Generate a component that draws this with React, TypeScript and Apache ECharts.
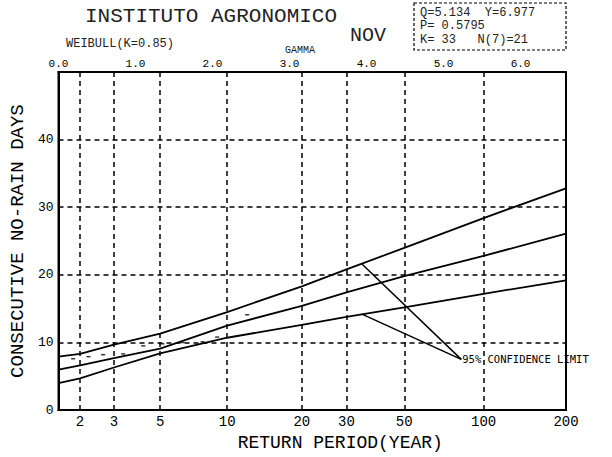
import { useEffect, useRef } from "react";
import * as echarts from "echarts";

// Return periods (years) shown on the bottom axis and their Weibull reduced-variate positions (top axis)
const returnPeriods = [2, 3, 5, 10, 20, 30, 50, 100, 200];
const reducedVariate = [0.28, 0.72, 1.32, 2.19, 3.16, 3.74, 4.49, 5.52, 6.59];
const gridPeriods = [2, 3, 5, 10, 20, 30, 50, 100];
const topTicks = [0, 1, 2, 3, 4, 5, 6];
const gridDays = [10, 20, 30, 40];

// Curves sampled at reduced variate 0 and at each return period
const curveW = [0, 0.28, 0.72, 1.32, 2.19, 3.16, 3.74, 4.49, 5.52, 6.59];
const upperLimit = [7.9, 8.3, 9.7, 11.3, 14.5, 18.3, 20.8, 24.0, 28.4, 32.8];
const estimate = [6.0, 6.6, 7.7, 9.1, 12.5, 15.4, 17.4, 19.8, 22.8, 26.1];
const lowerLimit = [4.0, 4.7, 6.3, 8.4, 10.7, 12.6, 13.8, 15.2, 17.2, 19.2];

// Observed points (plotting positions)
const obsW = [0.19, 0.39, 0.58, 0.84, 1.1, 1.35, 1.61, 1.87, 2.06, 2.45];
const obsDays = [7.6, 7.9, 8.2, 8.3, 9.5, 9.8, 10.0, 10.1, 10.8, 14.1];

// Confidence-limit pointer
const pointerUpperStart = [3.94, 21.6];
const pointerLowerStart = [3.94, 14.2];
const pointerEnd = [5.23, 7.5];

const MONO = "'Liberation Mono', 'DejaVu Sans Mono', monospace";

function periodFor(w: number): string {
  for (let i = 0; i < reducedVariate.length; i++) {
    if (Math.abs(reducedVariate[i] - w) < 1e-6) return String(returnPeriods[i]);
  }
  return "";
}
function wFor(T: number): number {
  return reducedVariate[returnPeriods.indexOf(T)];
}

export default function App() {
  const ref = useRef<HTMLDivElement>(null);
  useEffect(() => {
    if (!ref.current) return;
    const chart = echarts.init(ref.current, undefined, { renderer: "svg" });
    const dashed = { color: "#000", width: 1.5, type: [5, 4] as number[] };
    const curveStyle = { color: "#000", width: 1.8 };
    chart.setOption({
      animation: false,
      backgroundColor: "#fff",
      grid: {
        left: 55,
        right: 46,
        top: 72,
        bottom: 43,
        show: true,
        borderColor: "#000",
        borderWidth: 2,
        backgroundColor: "transparent",
      },
      xAxis: [
        {
          type: "value",
          position: "bottom",
          min: 0,
          max: 6.59,
          axisLine: { show: true, lineStyle: { color: "#000", width: 2 } },
          axisTick: { show: false },
          splitLine: { show: false },
          axisLabel: {
            customValues: reducedVariate,
            formatter: (v: number) => periodFor(v),
            color: "#000",
            fontFamily: MONO,
            fontSize: 14,
            margin: 5,
          },
          name: "RETURN PERIOD(YEAR)",
          nameLocation: "middle",
          nameGap: 17,
          nameTextStyle: {
            color: "#000",
            fontFamily: MONO,
            fontSize: 18,
            padding: [0, 0, 0, 56],
          },
        },
        {
          type: "value",
          position: "top",
          min: 0,
          max: 6.59,
          interval: 1,
          axisLine: { show: true, lineStyle: { color: "#000", width: 2 } },
          axisTick: { show: false },
          splitLine: { show: false },
          axisLabel: {
            formatter: (v: number) => (topTicks.indexOf(v) >= 0 ? v.toFixed(1) : ""),
            color: "#000",
            fontFamily: MONO,
            fontSize: 11,
            margin: 3,
          },
        },
      ],
      yAxis: {
        type: "value",
        min: 0,
        max: 50,
        interval: 10,
        axisLine: { show: true, lineStyle: { color: "#000", width: 2 } },
        axisTick: { show: false },
        splitLine: { show: false },
        axisLabel: {
          formatter: (v: number) => (v <= 40 ? String(v) : ""),
          color: "#000",
          fontFamily: MONO,
          fontSize: 13,
          margin: 5,
        },
        name: "CONSECUTIVE NO-RAIN DAYS",
        nameLocation: "middle",
        nameRotate: 90,
        nameGap: 22,
        nameTextStyle: { color: "#000", fontFamily: MONO, fontSize: 19 },
      },
      graphic: [
        {
          type: "text",
          left: 85,
          top: 6,
          style: { text: "INSTITUTO AGRONOMICO", font: `21px ${MONO}`, fill: "#222" },
        },
        {
          type: "text",
          left: 350,
          top: 25,
          style: { text: "NOV", font: `20px ${MONO}`, fill: "#222" },
        },
        {
          type: "text",
          left: 66,
          top: 38,
          style: { text: "WEIBULL(K=0.85)", font: `12px ${MONO}`, fill: "#222" },
        },
        {
          type: "text",
          left: 285,
          top: 45,
          style: { text: "GAMMA", font: `10px ${MONO}`, fill: "#222" },
        },
        {
          type: "rect",
          shape: { x: 414, y: 3, width: 152, height: 47 },
          style: { fill: "none", stroke: "#000", lineWidth: 1.2, lineDash: [3, 2] },
        },
        {
          type: "text",
          left: 420,
          top: 7,
          style: { text: "Q=5.134  Y=6.977", font: `12px ${MONO}`, fill: "#222" },
        },
        {
          type: "text",
          left: 420,
          top: 20,
          style: { text: "P= 0.5795", font: `12px ${MONO}`, fill: "#222" },
        },
        {
          type: "text",
          left: 420,
          top: 34,
          style: { text: "K= 33   N(7)=21", font: `12px ${MONO}`, fill: "#222" },
        },
      ],
      series: [
        {
          type: "line",
          name: "grid",
          data: [],
          xAxisIndex: 0,
          markLine: {
            silent: true,
            symbol: "none",
            label: { show: false },
            lineStyle: dashed,
            data: [
              ...gridPeriods.map((T) => ({ xAxis: wFor(T) })),
              ...gridDays.map((d) => ({ yAxis: d })),
            ],
          },
        },
        {
          type: "line",
          name: "upper",
          xAxisIndex: 0,
          showSymbol: false,
          lineStyle: curveStyle,
          data: curveW.map((w, i) => [w, upperLimit[i]]),
        },
        {
          type: "line",
          name: "estimate",
          xAxisIndex: 0,
          showSymbol: false,
          lineStyle: curveStyle,
          data: curveW.map((w, i) => [w, estimate[i]]),
        },
        {
          type: "line",
          name: "lower",
          xAxisIndex: 0,
          showSymbol: false,
          lineStyle: curveStyle,
          data: curveW.map((w, i) => [w, lowerLimit[i]]),
        },
        {
          type: "scatter",
          name: "observed",
          xAxisIndex: 0,
          symbol: "rect",
          symbolSize: [4, 1.5],
          itemStyle: { color: "#000" },
          data: obsW.map((w, i) => [w, obsDays[i]]),
        },
        {
          type: "line",
          name: "pointerUpper",
          xAxisIndex: 0,
          showSymbol: false,
          lineStyle: { color: "#000", width: 1.5 },
          data: [pointerUpperStart, pointerEnd],
          endLabel: {
            show: true,
            formatter: () => "95% CONFIDENCE LIMIT",
            color: "#000",
            fontFamily: "'DejaVu Sans Mono', monospace",
            fontSize: 10.5,
            distance: 1,
          },
        },
        {
          type: "line",
          name: "pointerLower",
          xAxisIndex: 0,
          showSymbol: false,
          lineStyle: { color: "#000", width: 1.5 },
          data: [pointerLowerStart, pointerEnd],
        },
      ],
    });
    return () => chart.dispose();
  }, []);
  return (
    <div
      ref={ref}
      style={{ position: "absolute", left: 0, top: 0, width: 612, height: 457 }}
    />
  );
}
